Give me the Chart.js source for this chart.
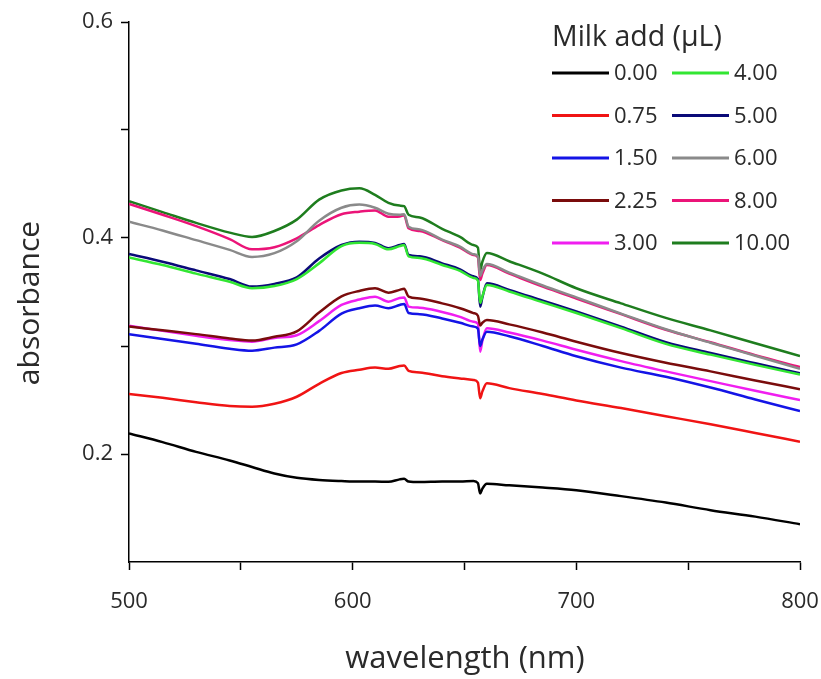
<!DOCTYPE html>
<html><head><meta charset="utf-8">
<script src="https://cdn.jsdelivr.net/npm/chart.js@4"></script>
<style>html,body{margin:0;padding:0;background:#fff;} #wrap{width:821px;height:679px;}</style>
</head><body><div id="wrap"><canvas id="c" width="821" height="679"></canvas></div>
<script>
const wavelengths = [500,515,530,545,555,565,575,585,595,603,610,616,621,623,625,630,640,648,654,656,657,658,660,670,685,700,720,740,760,780,800];
const abs000 = [0.219,0.211,0.202,0.194,0.188,0.182,0.178,0.176,0.175,0.1745,0.1745,0.1742,0.1765,0.177,0.1745,0.174,0.1745,0.1745,0.175,0.173,0.1635,0.168,0.1725,0.171,0.169,0.1665,0.161,0.155,0.148,0.142,0.135];
const abs075 = [0.2556,0.252,0.248,0.2445,0.2438,0.2465,0.253,0.265,0.275,0.278,0.280,0.279,0.2815,0.282,0.277,0.2755,0.272,0.270,0.2685,0.266,0.2516,0.258,0.2655,0.261,0.2555,0.2495,0.2425,0.235,0.2275,0.2195,0.2114];
const abs150 = [0.311,0.3065,0.302,0.2975,0.2957,0.2985,0.3015,0.314,0.330,0.335,0.3375,0.335,0.338,0.339,0.3305,0.3295,0.3255,0.3215,0.318,0.316,0.300,0.306,0.3132,0.309,0.300,0.2905,0.280,0.2715,0.2615,0.2505,0.2398];
const abs225 = [0.318,0.3145,0.311,0.307,0.305,0.3085,0.3135,0.331,0.346,0.351,0.3534,0.3494,0.352,0.353,0.3457,0.344,0.3395,0.335,0.3305,0.328,0.319,0.3215,0.324,0.320,0.3125,0.304,0.2935,0.2845,0.2765,0.268,0.260];
const abs300 = [0.3188,0.314,0.3095,0.3055,0.304,0.3075,0.310,0.323,0.338,0.343,0.3457,0.341,0.3445,0.345,0.3365,0.3355,0.3315,0.327,0.3225,0.3205,0.2947,0.305,0.3164,0.3125,0.305,0.2965,0.286,0.2765,0.2675,0.2585,0.250];
const abs400 = [0.382,0.375,0.367,0.3595,0.3535,0.3555,0.362,0.3765,0.3925,0.3955,0.3945,0.3895,0.3925,0.3935,0.383,0.3815,0.375,0.3695,0.363,0.3605,0.340,0.346,0.3565,0.3505,0.3405,0.3305,0.3165,0.302,0.292,0.2825,0.2735];
const abs500 = [0.3852,0.378,0.370,0.362,0.355,0.3575,0.3635,0.381,0.3935,0.3966,0.3955,0.3905,0.3935,0.3945,0.3843,0.383,0.3765,0.371,0.3645,0.362,0.3364,0.345,0.358,0.352,0.342,0.332,0.318,0.3035,0.2935,0.284,0.2747];
const abs600 = [0.415,0.407,0.398,0.389,0.3825,0.386,0.397,0.416,0.428,0.431,0.428,0.4225,0.4215,0.422,0.4105,0.408,0.3985,0.392,0.385,0.383,0.365,0.370,0.376,0.368,0.356,0.345,0.330,0.3155,0.303,0.291,0.279];
const abs800 = [0.4315,0.4215,0.411,0.399,0.3895,0.3915,0.3997,0.412,0.422,0.4244,0.4255,0.4197,0.420,0.421,0.409,0.4065,0.398,0.391,0.3843,0.382,0.361,0.367,0.375,0.367,0.355,0.344,0.3295,0.315,0.3035,0.2915,0.2805];
const abs1000 = [0.434,0.424,0.414,0.405,0.401,0.4065,0.417,0.4355,0.444,0.446,0.440,0.4325,0.430,0.4295,0.4215,0.419,0.4085,0.401,0.3935,0.391,0.370,0.378,0.386,0.3785,0.367,0.3535,0.3395,0.326,0.3145,0.3025,0.2907];

const seriesLabels = ["0.00","0.75","1.50","2.25","3.00","4.00","5.00","6.00","8.00","10.00"];
const seriesValues = [abs000,abs075,abs150,abs225,abs300,abs400,abs500,abs600,abs800,abs1000];
const seriesColors = ["#000000","#f01414","#1414e6","#7a0c0c","#f01ef0","#32e632","#0a0a78","#8a8a8a","#eb1478","#1e7d1e"];
const xTickLabels = [500,600,700,800];
const yTickLabels = [0.2,0.4,0.6];
const legendTitle = "Milk add (\u03bcL)";
const xTitle = "wavelength (nm)";
const yTitle = "absorbance";

const FONT = "'Open Sans', 'DejaVu Sans', sans-serif";
const TEXT = "#2a2a2a";

const datasets = seriesValues.map((vals, i) => ({
  label: seriesLabels[i],
  data: wavelengths.map((w, j) => ({x: w, y: vals[j]})),
  borderColor: seriesColors[i],
  backgroundColor: seriesColors[i],
  borderWidth: 2.5,
  pointRadius: 0,
  fill: false,
  cubicInterpolationMode: 'monotone'
}));

const decor = {
  id: 'decor',
  afterDraw(chart) {
    const ctx = chart.ctx;
    ctx.save();
    ctx.fillStyle = TEXT;
    ctx.font = "31px " + FONT;
    ctx.textAlign = 'center';
    ctx.textBaseline = 'middle';
    ctx.fillText(xTitle, 465, 659);
    ctx.save();
    ctx.translate(30, 303);
    ctx.rotate(-Math.PI / 2);
    ctx.font = "30px " + FONT;
    ctx.fillText(yTitle, 0, 0);
    ctx.restore();
    ctx.textAlign = 'left';
    ctx.font = "28.5px " + FONT;
    ctx.fillText(legendTitle, 552, 38);
    ctx.font = "22px " + FONT;
    chart.data.datasets.forEach((ds, i) => {
      const col = Math.floor(i / 5), row = i % 5;
      const y = 73 + row * 42.5;
      const x0 = col === 0 ? 552 : 672;
      ctx.strokeStyle = ds.borderColor;
      ctx.lineWidth = 3;
      ctx.beginPath();
      ctx.moveTo(x0, y);
      ctx.lineTo(x0 + 57, y);
      ctx.stroke();
      ctx.fillStyle = TEXT;
      ctx.fillText(ds.label, x0 + 62, y + 1);
    });
    ctx.restore();
  }
};

new Chart(document.getElementById('c'), {
  type: 'line',
  data: { datasets },
  options: {
    responsive: false,
    animation: false,
    devicePixelRatio: 1,
    layout: { padding: { top: 22, right: 21, left: 0, bottom: 0 } },
    plugins: { legend: { display: false }, tooltip: { enabled: false } },
    scales: {
      x: {
        type: 'linear', min: 500, max: 800,
        afterFit(s) { s.height = 117; s.paddingLeft = 0; s.paddingRight = 0; },
        border: { display: true, color: '#000', width: 1.5 },
        grid: { drawOnChartArea: false, drawTicks: true, tickLength: 8, tickColor: '#000', tickWidth: 1.5 },
        ticks: {
          stepSize: 50, autoSkip: false, maxRotation: 0, padding: 19, color: TEXT,
          font: { family: FONT, size: 22 },
          callback: v => xTickLabels.includes(v) ? String(v) : ''
        }
      },
      y: {
        type: 'linear', min: 0.1, max: 0.6,
        afterFit(s) { s.width = 129; s.paddingTop = 0; s.paddingBottom = 0; },
        border: { display: true, color: '#000', width: 1.5 },
        grid: {
          drawOnChartArea: false, drawTicks: true, tickLength: 8, tickWidth: 1.5,
          tickColor: c => (c.tick && Math.abs(c.tick.value - 0.1) < 1e-6) ? 'rgba(0,0,0,0)' : '#000'
        },
        ticks: {
          stepSize: 0.1, autoSkip: false, padding: 8, color: TEXT,
          font: { family: FONT, size: 22 },
          callback: v => yTickLabels.some(t => Math.abs(t - v) < 1e-6) ? v.toFixed(1) : ''
        }
      }
    }
  },
  plugins: [decor]
});
</script>
</body></html>
